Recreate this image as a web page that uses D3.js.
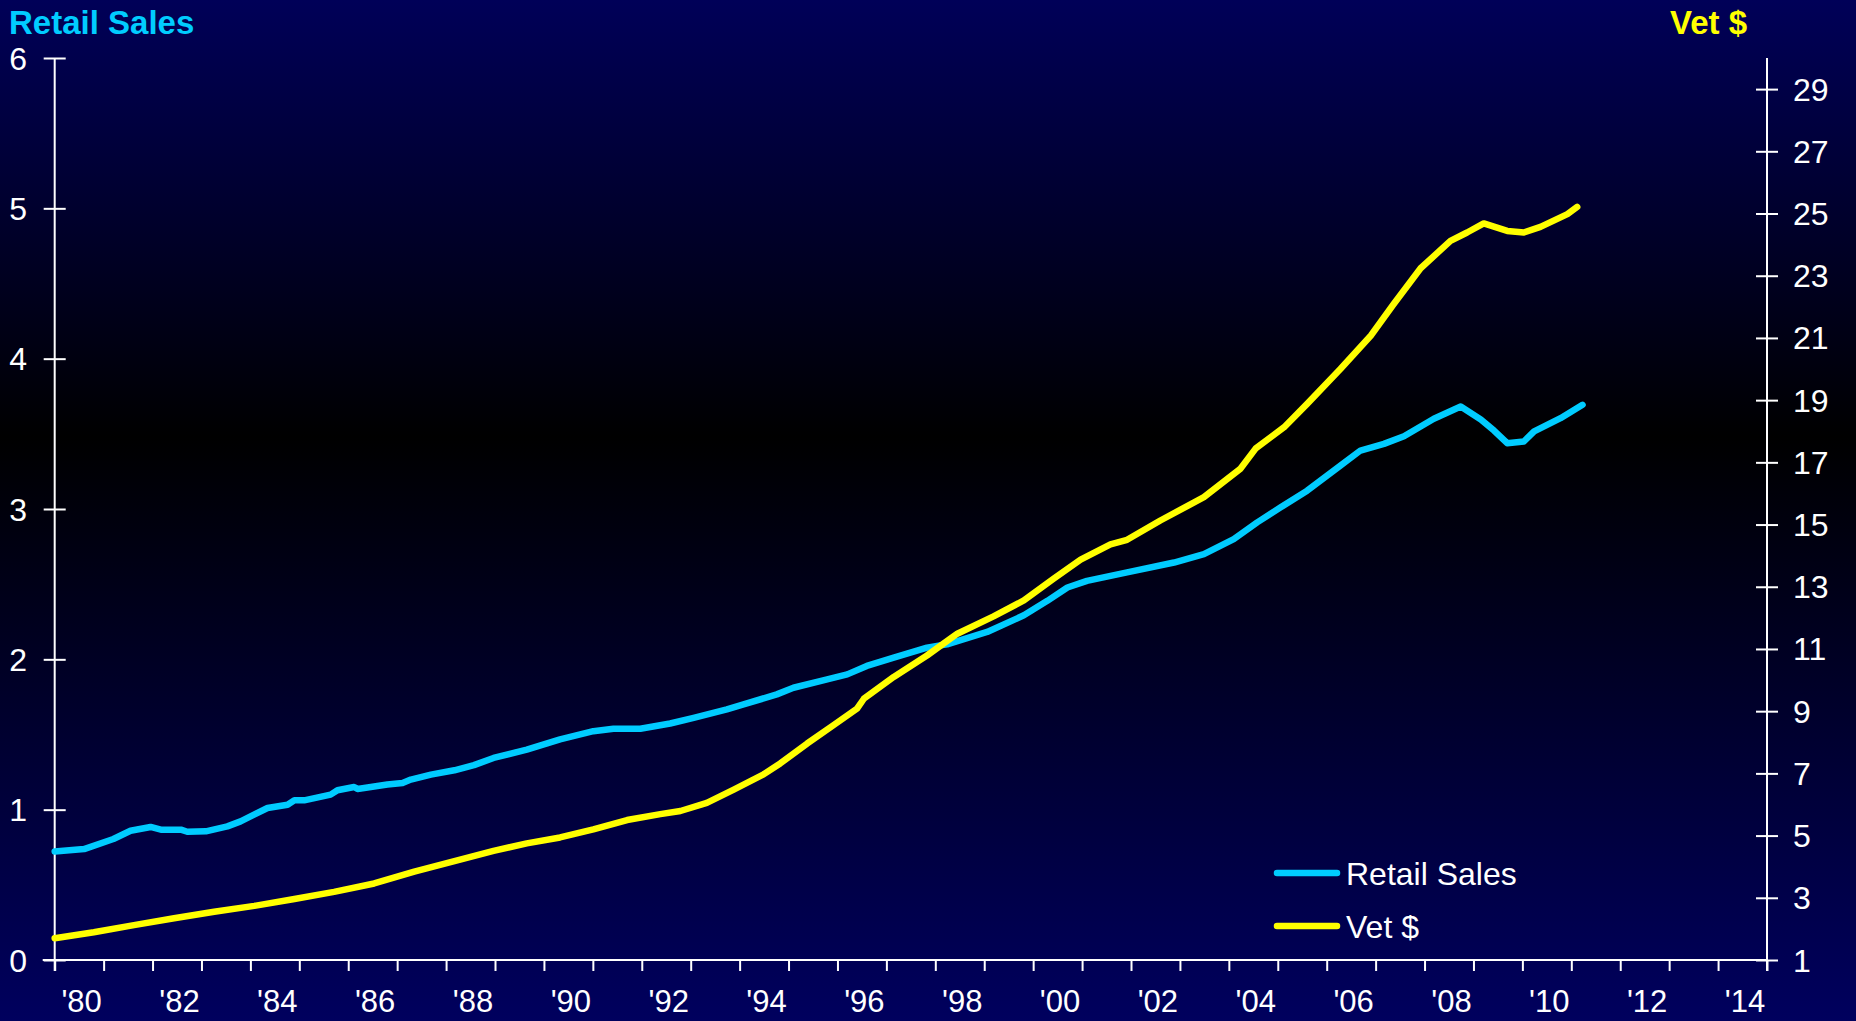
<!DOCTYPE html>
<html>
<head>
<meta charset="utf-8">
<script src="https://cdn.jsdelivr.net/npm/d3@7/dist/d3.min.js"></script>
<style>
  html, body { margin: 0; padding: 0; background: #000058; overflow: hidden; }
  svg { display: block; }
  text { font-family: Arial, "Liberation Sans", sans-serif; }
</style>
</head>
<body>
<script>
// Retail Sales (left axis), sampled along the series
const retailYears = [1980.0, 1980.6, 1981.2, 1981.55, 1981.96, 1982.17, 1982.58, 1982.71, 1983.09, 1983.53,
  1983.8, 1984.35, 1984.76, 1984.9, 1985.1, 1985.64, 1985.78, 1986.12, 1986.19, 1986.8,
  1987.11, 1987.28, 1987.69, 1988.17, 1988.57, 1988.97, 1989.65, 1990.33, 1991.01, 1991.42,
  1991.97, 1992.58, 1993.06, 1993.74, 1994.08, 1994.76, 1995.1, 1995.79, 1996.2, 1996.6,
  1997.15, 1997.83, 1998.24, 1999.06, 1999.81, 2000.29, 2000.7, 2001.1, 2001.92, 2002.88,
  2003.49, 2004.1, 2004.58, 2005.06, 2005.6, 2006.28, 2006.69, 2007.17, 2007.58, 2008.19,
  2008.74, 2009.15, 2009.42, 2009.69, 2010.03, 2010.24, 2010.78, 2011.23];
const retailValues = [0.722, 0.738, 0.805, 0.86, 0.885, 0.867, 0.867, 0.853, 0.856, 0.889,
  0.922, 1.011, 1.033, 1.062, 1.062, 1.10, 1.129, 1.151, 1.138, 1.167,
  1.178, 1.20, 1.233, 1.262, 1.296, 1.344, 1.40, 1.467, 1.522, 1.538,
  1.538, 1.573, 1.611, 1.667, 1.70, 1.767, 1.811, 1.867, 1.90, 1.956,
  2.011, 2.078, 2.10, 2.182, 2.293, 2.389, 2.478, 2.522, 2.578, 2.644,
  2.70, 2.80, 2.911, 3.011, 3.122, 3.289, 3.389, 3.433, 3.484, 3.60,
  3.682, 3.596, 3.522, 3.438, 3.449, 3.516, 3.604, 3.693];

// Vet $ (right axis)
const vetYears = [1980.0, 1980.8, 1981.62, 1982.44, 1983.26, 1984.08, 1984.9, 1985.71, 1986.53, 1987.35,
  1988.17, 1988.97, 1989.65, 1990.33, 1991.01, 1991.7, 1992.38, 1992.79, 1993.33, 1993.88,
  1994.49, 1994.83, 1995.38, 1995.92, 1996.4, 1996.54, 1997.15, 1997.83, 1998.45, 1999.19,
  1999.81, 2000.42, 2000.97, 2001.58, 2001.92, 2002.6, 2003.49, 2004.24, 2004.55, 2005.13,
  2005.6, 2006.28, 2006.9, 2007.37, 2007.92, 2008.53, 2008.87, 2009.21, 2009.69, 2010.03,
  2010.37, 2010.92, 2011.12];
const vetValues = [1.70, 1.89, 2.12, 2.34, 2.55, 2.74, 2.96, 3.19, 3.46, 3.84,
  4.18, 4.51, 4.75, 4.94, 5.20, 5.50, 5.69, 5.79, 6.05, 6.48,
  6.97, 7.32, 7.96, 8.55, 9.08, 9.40, 10.10, 10.79, 11.49, 12.05,
  12.56, 13.26, 13.87, 14.36, 14.51, 15.13, 15.88, 16.80, 17.45, 18.13,
  18.88, 20.0, 21.07, 22.09, 23.24, 24.12, 24.39, 24.68, 24.44, 24.39,
  24.57, 24.98, 25.21];

// Axis ticks and labels
const leftTicks = [0, 1, 2, 3, 4, 5, 6];
const rightTicks = [1, 3, 5, 7, 9, 11, 13, 15, 17, 19, 21, 23, 25, 27, 29];
const yearTicks = d3.range(1980, 2016);
const yearLabels = d3.range(1980, 2015, 2);

const seriesNames = ["Retail Sales", "Vet $"];
const seriesColors = ["#00ccff", "#ffff00"];

const W = 1856, H = 1021;
const svg = d3.select("body").append("svg").attr("width", W).attr("height", H);

// background: navy fading to black and back to navy
const defs = svg.append("defs");
const grad = defs.append("linearGradient").attr("id", "bg")
  .attr("x1", 0).attr("y1", 0).attr("x2", 0).attr("y2", 1);
grad.append("stop").attr("offset", "0%").attr("stop-color", "rgb(0,0,88)");
grad.append("stop").attr("offset", "42.8%").attr("stop-color", "rgb(0,0,0)");
grad.append("stop").attr("offset", "100%").attr("stop-color", "rgb(0,0,94)");
svg.append("rect").attr("width", W).attr("height", H).attr("fill", "url(#bg)");

const x0 = 54.7, x1 = 1767, yBottom = 960, yTop = 58;
const x = d3.scaleLinear().domain([1980, 2015]).range([x0, x1]);
const yL = d3.scaleLinear().domain([0, 6]).range([yBottom, yTop]);
const yR = d3.scaleLinear().domain([1, 30]).range([yBottom, yTop]);

const axisColor = "#ffffff";

// x axis
const gx = svg.append("g").attr("transform", `translate(0,${yBottom})`)
  .call(d3.axisBottom(x).tickValues(yearTicks).tickSize(11).tickSizeOuter(0).tickFormat(""));
gx.select(".domain").attr("stroke", axisColor).attr("stroke-width", 2)
  .attr("d", `M${x0 - 12},0H${x1}`);
gx.selectAll(".tick line").attr("stroke", axisColor).attr("stroke-width", 2);

svg.append("g").selectAll("text").data(yearLabels).join("text")
  .attr("x", d => x(d + 0.55))
  .attr("y", 1012)
  .attr("text-anchor", "middle")
  .attr("fill", "#fff")
  .attr("font-size", 31)
  .text(d => "'" + String(d % 100).padStart(2, "0"));

// left axis
const gl = svg.append("g").attr("transform", `translate(${x0},0)`)
  .call(d3.axisLeft(yL).tickValues(leftTicks).tickSize(11).tickSizeOuter(0).tickFormat(""));
gl.select(".domain").attr("stroke", axisColor).attr("stroke-width", 2)
  .attr("d", `M0,${yTop}V${yBottom + 11}`);
gl.selectAll(".tick line").attr("stroke", axisColor).attr("stroke-width", 2)
  .attr("x1", -11).attr("x2", 11);
svg.append("g").selectAll("text").data(leftTicks).join("text")
  .attr("x", 27).attr("y", d => yL(d))
  .attr("dy", "0.36em")
  .attr("text-anchor", "end")
  .attr("fill", "#fff").attr("font-size", 32)
  .text(d => d);

// right axis
const gr = svg.append("g").attr("transform", `translate(${x1},0)`)
  .call(d3.axisRight(yR).tickValues(rightTicks).tickSize(11).tickSizeOuter(0).tickFormat(""));
gr.select(".domain").attr("stroke", axisColor).attr("stroke-width", 2)
  .attr("d", `M0,${yTop}V${yBottom + 11}`);
gr.selectAll(".tick line").attr("stroke", axisColor).attr("stroke-width", 2)
  .attr("x1", -11).attr("x2", 11);
svg.append("g").selectAll("text").data(rightTicks).join("text")
  .attr("x", 1793).attr("y", d => yR(d))
  .attr("dy", "0.36em")
  .attr("text-anchor", "start")
  .attr("fill", "#fff").attr("font-size", 32)
  .text(d => d);

// axis titles
svg.append("text").attr("x", 9).attr("y", 34)
  .attr("fill", seriesColors[0]).attr("font-size", 33).attr("font-weight", "bold")
  .text(seriesNames[0]);
svg.append("text").attr("x", 1747).attr("y", 34).attr("text-anchor", "end")
  .attr("fill", seriesColors[1]).attr("font-size", 33).attr("font-weight", "bold")
  .text(seriesNames[1]);

// series lines
const retailLine = d3.line().x((d, i) => x(retailYears[i])).y(d => yL(d));
const vetLine = d3.line().x((d, i) => x(vetYears[i])).y(d => yR(d));

svg.append("path").datum(retailValues).attr("d", retailLine)
  .attr("fill", "none").attr("stroke", seriesColors[0]).attr("stroke-width", 6.5)
  .attr("stroke-linejoin", "round").attr("stroke-linecap", "round");
svg.append("path").datum(vetValues).attr("d", vetLine)
  .attr("fill", "none").attr("stroke", seriesColors[1]).attr("stroke-width", 6.5)
  .attr("stroke-linejoin", "round").attr("stroke-linecap", "round");

// legend
const legend = svg.append("g").attr("transform", "translate(1277,873)");
seriesNames.forEach((name, i) => {
  const g = legend.append("g").attr("transform", `translate(0,${i * 53})`);
  g.append("line").attr("x1", 0).attr("x2", 60).attr("y1", 0).attr("y2", 0)
    .attr("stroke", seriesColors[i]).attr("stroke-width", 6.5).attr("stroke-linecap", "round");
  g.append("text").attr("x", 69).attr("y", 0).attr("dy", "0.36em")
    .attr("fill", "#fff").attr("font-size", 32).text(name);
});
</script>
</body>
</html>
